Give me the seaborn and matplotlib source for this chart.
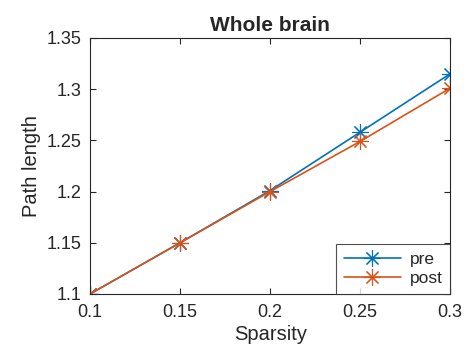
import pandas as pd
import matplotlib
matplotlib.use("Agg")
import matplotlib.pyplot as plt
import seaborn as sns

# data
sparsity = [0.1, 0.15, 0.2, 0.25, 0.3]
pre = [1.100, 1.150, 1.201, 1.258, 1.315]
post = [1.100, 1.150, 1.200, 1.249, 1.301]
groups = ["pre", "post"]
colors = ["#0072BD", "#D95319"]

df = pd.DataFrame({
    "Sparsity": sparsity * 2,
    "Path length": pre + post,
    "group": ["pre"] * len(pre) + ["post"] * len(post),
})

sns.set_style("white")
plt.rcParams["font.family"] = ["Liberation Sans", "DejaVu Sans"]

fig = plt.figure(figsize=(4.67, 3.58), dpi=100)
ax = fig.add_axes([0.193, 0.179, 0.771, 0.715])

# MATLAB-like asterisk: 8 spokes
sns.lineplot(
    data=df, x="Sparsity", y="Path length", hue="group",
    hue_order=groups, palette=colors, marker=(8, 2, 0), markersize=12,
    markeredgewidth=0.8, linewidth=1.2, ax=ax,
)
for line in ax.lines:
    line.set_markeredgecolor(line.get_color())

ax.set_xlim(0.1, 0.3)
ax.set_ylim(1.1, 1.35)
ax.set_xticks([0.1, 0.15, 0.2, 0.25, 0.3])
ax.set_xticklabels(["0.1", "0.15", "0.2", "0.25", "0.3"])
ax.set_yticks([1.1, 1.15, 1.2, 1.25, 1.3, 1.35])
ax.set_yticklabels(["1.1", "1.15", "1.2", "1.25", "1.3", "1.35"])
ax.tick_params(direction="in", length=4, width=0.8, labelsize=13,
               colors="#262626", top=True, right=True,
               bottom=True, left=True)
ax.tick_params(axis="x", pad=7)
ax.tick_params(axis="y", pad=6)
for s in ax.spines.values():
    s.set_color("#262626")
    s.set_linewidth(0.8)

ax.set_xlabel("Sparsity", fontsize=14.5, color="#262626", labelpad=3)
ax.set_ylabel("Path length", fontsize=14.5, color="#262626", labelpad=4)
ax.set_title("Whole brain", fontsize=15, fontweight="bold", pad=5)

leg = ax.legend(loc="lower right", fontsize=12.5, frameon=True,
                fancybox=False, borderaxespad=0, handlelength=3.3,
                borderpad=0.45, labelspacing=0.25, handletextpad=0.5)
leg.get_frame().set_edgecolor("#262626")
leg.get_frame().set_linewidth(0.8)

fig.savefig("out.png", dpi=100)
